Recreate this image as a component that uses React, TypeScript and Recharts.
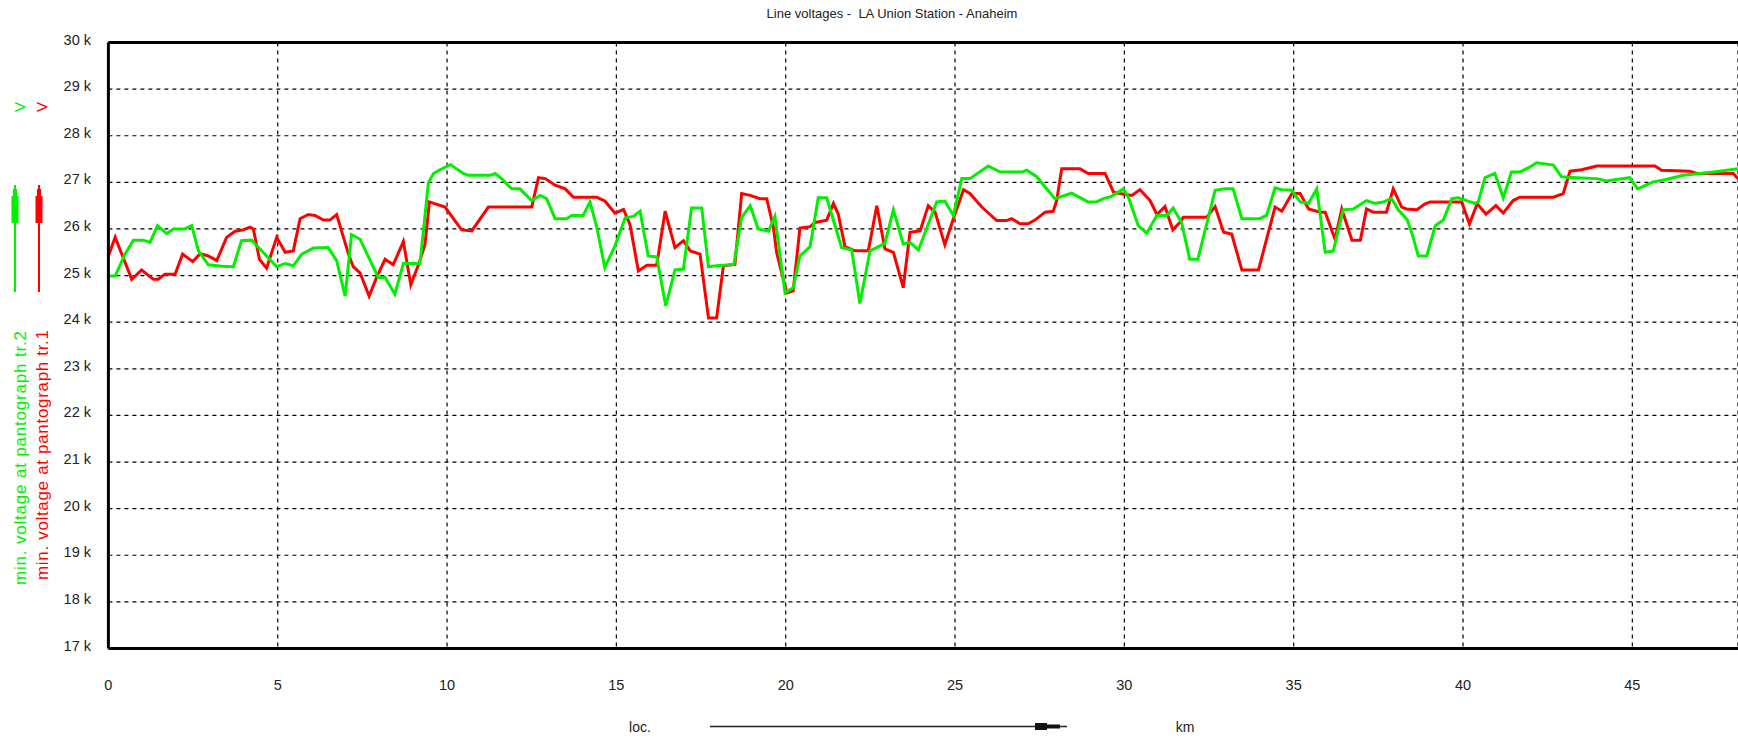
import { CartesianGrid, Line, LineChart, ReferenceLine, XAxis, YAxis } from 'recharts';

// km positions and min. voltage (kV) per train
const greenKm = [
  0, 0.2, 0.49, 0.74, 1.03, 1.23, 1.45, 1.72, 1.92, 2.26, 2.46, 2.66, 2.95, 3.34, 3.69, 3.93, 4.23, 4.62, 4.97,
  5.22, 5.46, 5.71, 6.05, 6.49, 6.74, 6.99, 7.18, 7.43, 7.97, 8.17, 8.46, 8.71, 9.2, 9.45, 9.6, 9.79, 10.1, 10.48,
  10.63, 11.27, 11.42, 11.61, 11.91, 12.15, 12.5, 12.75, 12.94, 13.19, 13.53, 13.68, 14.02, 14.22, 14.42, 14.66,
  14.96, 15.26, 15.5, 15.7, 15.94, 16.19, 16.46, 16.73, 16.98, 17.22, 17.52, 17.72, 17.96, 18.47, 18.7, 18.95,
  19.19, 19.49, 19.68, 19.98, 20.22, 20.42, 20.72, 20.96, 21.21, 21.65, 21.95, 22.19, 22.49, 22.93, 23.18, 23.47,
  23.67, 23.92, 24.46, 24.7, 24.95, 25.2, 25.44, 25.98, 26.33, 26.97, 27.12, 27.41, 27.95, 28.44, 28.93, 29.18,
  29.38, 29.62, 29.97, 30.12, 30.41, 30.66, 30.96, 31.25, 31.44, 31.69, 31.93, 32.17, 32.68, 32.97, 33.21, 33.47,
  34.0, 34.2, 34.45, 34.65, 34.94, 35.19, 35.44, 35.68, 35.93, 36.17, 36.46, 36.76, 37.15, 37.4, 37.65, 37.89,
  38.1, 38.35, 38.5, 38.68, 38.93, 39.18, 39.42, 39.67, 39.86, 40.35, 40.45, 40.65, 40.94, 41.19, 41.43, 41.68,
  41.98, 42.17, 42.67, 42.91, 43.35, 43.95, 44.24, 44.53, 44.92, 45.16, 45.61, 46.0, 46.5, 46.99, 47.58, 48.12,
];
const greenKv = [
  24.99, 24.99, 25.46, 25.76, 25.76, 25.71, 26.07, 25.9, 26.0, 26.0, 26.07, 25.53, 25.23, 25.2, 25.19, 25.75, 25.76,
  25.46, 25.19, 25.26, 25.21, 25.46, 25.59, 25.6, 25.32, 24.56, 25.88, 25.78, 24.96, 24.96, 24.6, 25.26, 25.26,
  26.99, 27.19, 27.27, 27.38, 27.19, 27.15, 27.15, 27.19, 27.08, 26.86, 26.86, 26.61, 26.72, 26.65, 26.22, 26.22,
  26.29, 26.29, 26.58, 26.04, 25.17, 25.64, 26.24, 26.27, 26.38, 25.42, 25.4, 24.35, 25.12, 25.14, 26.45, 26.45,
  25.19, 25.21, 25.24, 26.25, 26.5, 26.0, 25.95, 26.27, 24.63, 24.74, 25.42, 25.62, 26.67, 26.67, 25.6, 25.55,
  24.4, 25.53, 25.69, 26.41, 25.68, 25.71, 25.55, 26.58, 26.6, 26.29, 27.08, 27.08, 27.35, 27.22, 27.22, 27.26,
  27.12, 26.65, 26.77, 26.58, 26.58, 26.65, 26.7, 26.86, 26.68, 26.07, 25.91, 26.29, 26.29, 26.45, 26.14, 25.35,
  25.35, 26.83, 26.86, 26.86, 26.22, 26.22, 26.29, 26.88, 26.84, 26.83, 26.58, 26.55, 26.86, 25.5, 25.53, 26.41,
  26.43, 26.61, 26.55, 26.58, 26.65, 26.4, 26.2, 25.89, 25.42, 25.42, 26.07, 26.19, 26.65, 26.67, 26.55, 26.58,
  27.1, 27.19, 26.67, 27.22, 27.22, 27.33, 27.42, 27.37, 27.12, 27.1, 27.08, 27.03, 27.06, 27.1, 26.86, 27.01,
  27.06, 27.15, 27.19, 27.24, 27.29,
];

const redKm = [
  0, 0.2, 0.69, 0.98, 1.33, 1.47, 1.67, 1.97, 2.19, 2.49, 2.71, 2.95, 3.2, 3.49, 3.74, 3.98, 4.18, 4.28, 4.46, 4.67,
  4.97, 5.22, 5.46, 5.66, 5.9, 6.1, 6.35, 6.54, 6.74, 7.09, 7.23, 7.43, 7.7, 7.92, 8.17, 8.41, 8.71, 8.93, 9.2,
  9.35, 9.48, 9.94, 10.43, 10.73, 11.22, 12.5, 12.7, 12.9, 13.19, 13.49, 13.73, 14.42, 14.66, 14.96, 15.21, 15.4,
  15.65, 15.9, 16.19, 16.44, 16.73, 16.98, 17.18, 17.47, 17.72, 17.96, 18.16, 18.5, 18.7, 18.95, 19.24, 19.44,
  19.64, 19.73, 20.03, 20.22, 20.42, 20.72, 20.87, 21.21, 21.41, 21.55, 21.75, 22.05, 22.44, 22.69, 22.93, 23.18,
  23.47, 23.67, 23.97, 24.21, 24.41, 24.7, 24.95, 25.25, 25.44, 25.79, 26.23, 26.52, 26.67, 26.92, 27.16, 27.36,
  27.66, 27.9, 28.0, 28.15, 28.69, 28.93, 29.43, 29.68, 29.87, 30.22, 30.46, 30.76, 30.96, 31.2, 31.43, 31.64,
  31.74, 32.43, 32.68, 32.93, 33.17, 33.47, 33.96, 34.45, 34.65, 34.95, 35.19, 35.44, 35.78, 35.93, 36.22, 36.42,
  36.72, 36.97, 37.15, 37.35, 37.74, 37.94, 38.19, 38.33, 38.63, 38.88, 39.03, 39.96, 40.19, 40.42, 40.68, 40.97,
  41.19, 41.48, 41.68, 42.67, 42.96, 43.16, 43.5, 43.95, 45.67, 45.86, 46.7, 46.9, 47.98, 48.12,
];
const redKv = [
  25.42, 25.82, 24.92, 25.12, 24.92, 24.92, 25.03, 25.03, 25.46, 25.3, 25.47, 25.42, 25.32, 25.82, 25.95, 25.98,
  26.04, 26.0, 25.35, 25.16, 25.82, 25.5, 25.53, 26.22, 26.31, 26.29, 26.19, 26.19, 26.31, 25.46, 25.19, 25.06,
  24.56, 24.96, 25.35, 25.23, 25.73, 24.8, 25.32, 25.68, 26.58, 26.47, 25.98, 25.96, 26.47, 26.47, 27.1, 27.08,
  26.94, 26.86, 26.68, 26.68, 26.6, 26.34, 26.42, 26.1, 25.1, 25.22, 25.22, 26.38, 25.6, 25.75, 25.53, 25.46,
  24.09, 24.09, 25.21, 25.24, 26.76, 26.72, 26.65, 26.65, 26.02, 25.5, 24.63, 24.67, 26.02, 26.05, 26.14, 26.19,
  26.55, 26.32, 25.62, 25.53, 25.53, 26.5, 25.57, 25.5, 24.74, 25.93, 25.96, 26.5, 26.36, 25.66, 26.22, 26.84,
  26.76, 26.47, 26.18, 26.18, 26.22, 26.11, 26.11, 26.19, 26.36, 26.38, 26.6, 27.29, 27.29, 27.19, 27.19, 26.79,
  26.76, 26.72, 26.84, 26.61, 26.31, 26.48, 25.98, 26.14, 26.25, 26.25, 26.48, 25.93, 25.89, 25.12, 25.12, 26.47,
  26.38, 26.76, 26.76, 26.43, 26.36, 26.36, 25.78, 26.43, 25.76, 25.76, 26.43, 26.36, 26.36, 26.86, 26.47, 26.43,
  26.41, 26.54, 26.58, 26.58, 26.11, 26.54, 26.32, 26.5, 26.34, 26.61, 26.68, 26.68, 26.76, 27.24, 27.27, 27.35,
  27.35, 27.26, 27.24, 27.19, 27.19, 27.08,
];

const xTicks = [0, 5, 10, 15, 20, 25, 30, 35, 40, 45];
const yTicks = [17, 18, 19, 20, 21, 22, 23, 24, 25, 26, 27, 28, 29, 30];

const title = 'Line voltages -  LA Union Station - Anaheim';
const greenLabel = 'min. voltage at pantograph tr.2';
const redLabel = 'min. voltage at pantograph tr.1';

const GREEN = '#00f000';
const RED = '#ff0000';
const FONT = '"Liberation Sans", Arial, sans-serif';

const greenData = greenKm.map((km, i) => ({ km, v: greenKv[i] }));
const redData = redKm.map((km, i) => ({ km, v: redKv[i] }));

const YTick = ({ y, payload }: any) => (
  <text x={91} y={y - 3} dy='0.35em' textAnchor='end' fontSize={14.5} fontFamily={FONT} fill='#222'>
    {payload.value} k
  </text>
);

const XTick = ({ x, payload }: any) => (
  <text x={x} y={685} dy='0.35em' textAnchor='middle' fontSize={14.5} fontFamily={FONT} fill='#222'>
    {payload.value}
  </text>
);

const LegendMark = ({ x, color }: { x: number; color: string }) => (
  <g>
    <line x1={x} x2={x} y1={185} y2={292} stroke={color} strokeWidth={2} />
    <rect x={x - 2} y={189} width={4} height={8} fill={color} />
    <rect x={x - 3.5} y={196} width={7} height={27} fill={color} />
  </g>
);

export default function App() {
  return (
    <div style={{ position: 'absolute', left: 0, top: 0, width: 1738, height: 739, background: '#fff' }}>
      <LineChart width={1738} height={739} data={greenData} margin={{ top: 42.5, right: 0, bottom: 0, left: 0 }}>
        <CartesianGrid stroke='#000' strokeDasharray='4 4' strokeWidth={1.2} />
        <XAxis
          type='number'
          dataKey='km'
          domain={[0, 48.12]}
          ticks={xTicks}
          height={90.5}
          tickSize={0}
          tickLine={false}
          axisLine={{ stroke: '#000', strokeWidth: 3 }}
          tick={<XTick />}
          allowDataOverflow
        />
        <YAxis
          type='number'
          domain={[17, 30]}
          ticks={yTicks}
          width={108.4}
          tickSize={0}
          tickLine={false}
          axisLine={{ stroke: '#000', strokeWidth: 3 }}
          tick={<YTick />}
          allowDataOverflow
        />
        <ReferenceLine y={30} stroke='#000' strokeWidth={3} />
        <Line data={redData} dataKey='v' stroke={RED} strokeWidth={3} dot={false} isAnimationActive={false} type='linear' />
        <Line data={greenData} dataKey='v' stroke={GREEN} strokeWidth={3} dot={false} isAnimationActive={false} type='linear' />
      </LineChart>
      <svg
        width={1738}
        height={739}
        style={{ position: 'absolute', left: 0, top: 0, pointerEvents: 'none' }}
        fontFamily={FONT}
      >
        <text x={892} y={13} dy='0.35em' textAnchor='middle' fontSize={13} fill='#222' style={{ whiteSpace: 'pre' }}>
          {title}
        </text>

        <text x={20} y={107} dy='0.35em' textAnchor='middle' fontSize={15} fill={GREEN} transform='rotate(-90 20 107)'>
          V
        </text>
        <text x={42} y={107} dy='0.35em' textAnchor='middle' fontSize={15} fill={RED} transform='rotate(-90 42 107)'>
          V
        </text>
        <LegendMark x={15} color={GREEN} />
        <LegendMark x={39} color={RED} />
        <text
          x={20}
          y={458}
          dy='0.35em'
          textAnchor='middle'
          fontSize={17}
          fill={GREEN}
          textLength={254}
          lengthAdjust='spacing'
          transform='rotate(-90 20 458)'
        >
          {greenLabel}
        </text>
        <text
          x={42}
          y={455}
          dy='0.35em'
          textAnchor='middle'
          fontSize={17}
          fill={RED}
          textLength={250}
          lengthAdjust='spacing'
          transform='rotate(-90 42 455)'
        >
          {redLabel}
        </text>

        <text x={640} y={727} dy='0.35em' textAnchor='middle' fontSize={14} fill='#222'>
          loc.
        </text>
        <line x1={710} x2={1067} y1={726.5} y2={726.5} stroke='#222' strokeWidth={1.5} />
        <rect x={1035} y={723} width={12} height={7} fill='#111' />
        <rect x={1047} y={724.5} width={13} height={4} fill='#111' />
        <text x={1185} y={727} dy='0.35em' textAnchor='middle' fontSize={14} fill='#222'>
          km
        </text>
      </svg>
    </div>
  );
}
